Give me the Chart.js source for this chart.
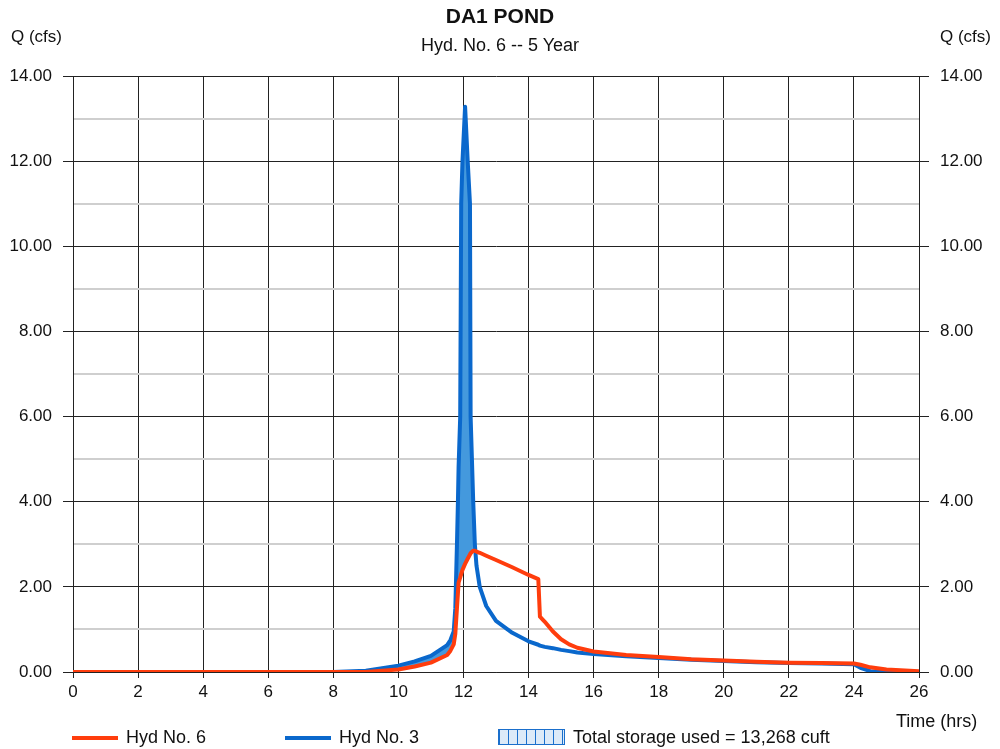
<!DOCTYPE html>
<html>
<head>
<meta charset="utf-8">
<script src="https://cdn.jsdelivr.net/npm/chart.js@4.4.1/dist/chart.umd.min.js"></script>
<style>
  body { margin: 0; background: #fff; font-family: "Liberation Sans", Arial, sans-serif; color: #111; }
  #wrap { position: relative; width: 1000px; height: 749px; }
  canvas { position: absolute; left: 0; top: 0; }
  .t { position: absolute; white-space: nowrap; }
  .swatch { position: absolute; height: 4px; }
  .hatch { position: absolute; border: 1px solid #1a6fcc; box-sizing: border-box;
           background: repeating-linear-gradient(90deg, #1a6fcc 0 1px, #dceaf8 1px 9px); }
</style>
</head>
<body>
<div id="wrap">
  <canvas id="hydro" width="1000" height="749"></canvas>
  <div class="t" style="left:0;width:1000px;text-align:center;top:4px;font-size:21px;font-weight:bold;">DA1 POND</div>
  <div class="t" style="left:0;width:1000px;text-align:center;top:35px;font-size:18px;">Hyd. No. 6 -- 5 Year</div>
  <div class="t" style="left:11px;top:27px;font-size:17px;">Q (cfs)</div>
  <div class="t" style="left:940px;top:27px;font-size:17px;">Q (cfs)</div>
  <div class="t" style="left:896px;top:711px;font-size:18px;">Time (hrs)</div>
  <div class="swatch" style="left:72px;top:736px;width:46px;background:#ff3d0d;"></div>
  <div class="t" style="left:126px;top:727px;font-size:18px;">Hyd No. 6</div>
  <div class="swatch" style="left:285px;top:736px;width:46px;background:#0a68cc;"></div>
  <div class="t" style="left:339px;top:727px;font-size:18px;">Hyd No. 3</div>
  <div class="hatch" style="left:498px;top:729px;width:67px;height:16px;"></div>
  <div class="t" style="left:573px;top:727px;font-size:18px;">Total storage used = 13,268 cuft</div>
</div>
<script>
// hydrograph ordinates, time in hours
const hours = [0, 8, 9, 10, 10.5, 11, 11.5, 11.6, 11.7, 11.75, 11.8, 11.83, 11.85, 11.9, 11.93, 11.97, 12.05, 12.13, 12.2, 12.22, 12.3, 12.35, 12.4, 12.5, 12.7, 13, 13.5, 14, 14.3, 14.35, 14.5, 14.75, 15, 15.25, 15.5, 16, 17, 18, 19, 20, 21, 22, 23, 24, 24.2, 24.5, 25, 26];
// inflow, Hyd No. 3 (cfs)
const hyd3 = [0, 0, 0.03, 0.15, 0.25, 0.38, 0.63, 0.75, 0.95, 1.5, 3.0, 4.0, 4.8, 6.0, 11.0, 12.0, 13.28, 12.0, 11.0, 6.0, 4.0, 3.0, 2.5, 2.0, 1.55, 1.2, 0.92, 0.72, 0.64, 0.62, 0.59, 0.56, 0.52, 0.49, 0.46, 0.42, 0.37, 0.33, 0.29, 0.26, 0.23, 0.21, 0.2, 0.18, 0.1, 0.02, 0.01, 0];
// outflow, Hyd No. 6 (cfs)
const hyd6 = [0, 0, 0, 0.06, 0.13, 0.22, 0.4, 0.5, 0.65, 0.9, 1.5, 1.85, 2.1, 2.22, 2.3, 2.4, 2.54, 2.66, 2.76, 2.79, 2.85, 2.85, 2.83, 2.8, 2.73, 2.63, 2.46, 2.28, 2.18, 1.3, 1.18, 0.95, 0.77, 0.65, 0.57, 0.48, 0.4, 0.35, 0.3, 0.27, 0.24, 0.22, 0.21, 0.2, 0.17, 0.11, 0.06, 0.02];

const qMax = 14;
const tMax = 26;

const pts = ys => hours.map((h, i) => ({ x: h, y: ys[i] }));
const dark = '#222';
const evenOnly = c => (c.tick && c.tick.value % 2 === 0) ? dark : 'rgba(0,0,0,0)';
const fmt = v => (v % 2 === 0 ? v.toFixed(2) : '');
const tickFont = { family: '"Liberation Sans", Arial, sans-serif', size: 17 };

new Chart(document.getElementById('hydro'), {
  type: 'line',
  data: {
    datasets: [
      { label: 'Hyd No. 6', data: pts(hyd6), borderColor: '#ff3d0d', borderWidth: 4, pointRadius: 0,
        tension: 0, borderJoinStyle: 'round', fill: false },
      { label: 'Hyd No. 3', data: pts(hyd3), borderColor: '#0a68cc', borderWidth: 4, pointRadius: 0,
        tension: 0, borderJoinStyle: 'round',
        fill: { target: 0, above: '#4499dd', below: 'rgba(0,0,0,0)' } }
    ]
  },
  options: {
    responsive: false,
    animation: false,
    layout: { padding: { top: 76, left: 0, right: 0, bottom: 0 } },
    plugins: { legend: { display: false }, tooltip: { enabled: false } },
    scales: {
      x: {
        type: 'linear', min: 0, max: tMax,
        afterFit: s => { s.height = 77; },
        border: { color: dark, width: 1 },
        grid: { color: dark, lineWidth: 1, tickLength: 6, tickColor: dark },
        ticks: { stepSize: 2, color: '#111', font: tickFont, padding: 4, maxRotation: 0 }
      },
      y: {
        position: 'left', min: 0, max: qMax,
        afterFit: s => { s.width = 73; },
        border: { color: dark, width: 1 },
        grid: {
          color: c => (c.tick.value % 2 === 0 ? dark : '#cfcfcf'),
          lineWidth: c => (c.tick.value % 2 === 0 ? 1 : 2),
          tickLength: 10, tickColor: evenOnly
        },
        ticks: { stepSize: 1, autoSkip: false, color: '#111', font: tickFont, padding: 11, callback: fmt }
      },
      y2: {
        position: 'right', min: 0, max: qMax, display: true,
        afterFit: s => { s.width = 81; },
        border: { color: dark, width: 1 },
        grid: { drawOnChartArea: false, tickLength: 10, tickColor: evenOnly },
        ticks: { stepSize: 1, autoSkip: false, color: '#111', font: tickFont, padding: 11, callback: fmt }
      }
    }
  }
});
</script>
</body>
</html>
